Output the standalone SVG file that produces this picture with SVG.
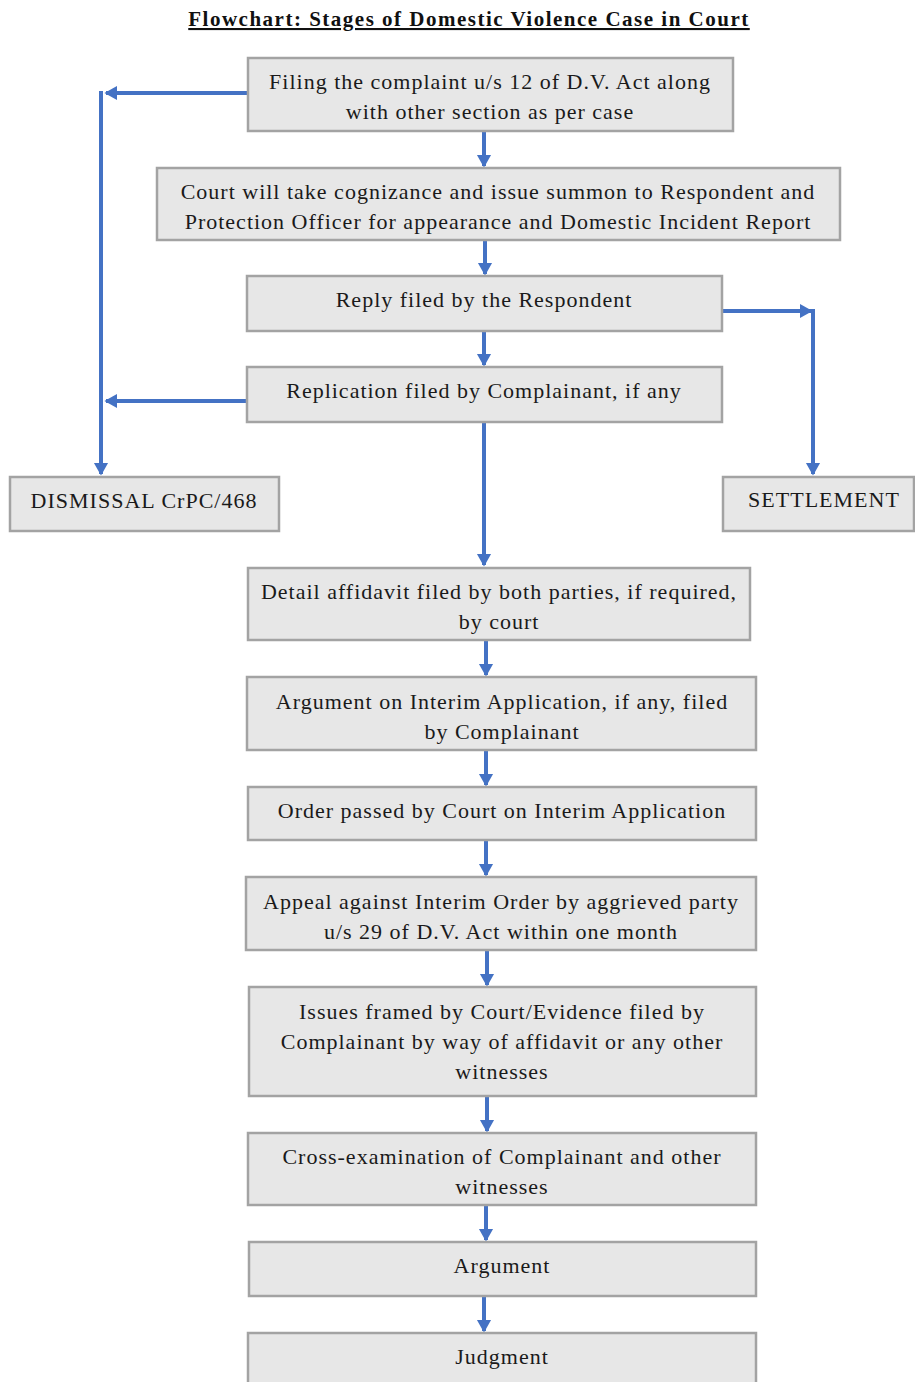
<svg xmlns="http://www.w3.org/2000/svg" width="915" height="1382" viewBox="0 0 915 1382">
<style>
.box{fill:#e7e7e7;stroke:#a3a3a3;stroke-width:2.5}
.t{font-family:"Liberation Serif","Times New Roman",serif;font-size:22px;fill:#1a1a1a;text-anchor:middle;letter-spacing:1px}
.title{font-family:"Liberation Serif","Times New Roman",serif;font-size:21px;font-weight:bold;fill:#111;text-anchor:middle;text-decoration:underline;letter-spacing:1.5px}
.c{fill:none;stroke:#4472c4;stroke-width:4;marker-end:url(#ah)}
</style>
<defs>
<marker id="ah" markerWidth="4" markerHeight="4" refX="2.8" refY="2" orient="auto" markerUnits="strokeWidth" viewBox="0 0 4 4">
<path d="M0,0.2 L3.2,2 L0,3.8 Z" fill="#4472c4"/>
</marker>
</defs>
<rect width="915" height="1382" fill="#fff"/>
<text class="title" x="469" y="26">Flowchart: Stages of Domestic Violence Case in Court</text>

<g id="connectors">
<path class="c" d="M484,131 V166"/>
<path class="c" d="M485,240 V274"/>
<path class="c" d="M484,331 V365"/>
<path class="c" d="M484,422 V565"/>
<path class="c" d="M248,93 H106"/>
<path class="c" d="M101,91 V474"/>
<path class="c" d="M248,401 H106"/>
<path class="c" d="M722,311 H811"/>
<path class="c" d="M813,309 V474"/>
<path class="c" d="M486,640 V675"/>
<path class="c" d="M486,750 V785"/>
<path class="c" d="M486,840 V875"/>
<path class="c" d="M487,950 V985"/>
<path class="c" d="M487,1096 V1131"/>
<path class="c" d="M486,1205 V1240"/>
<path class="c" d="M484,1296 V1331"/>
</g>

<g id="n1"><rect class="box" x="248" y="58" width="485" height="73"/>
<text class="t" x="490" y="89">Filing the complaint u/s 12 of D.V. Act along</text>
<text class="t" x="490" y="119">with other section as per case</text></g>

<g id="n2"><rect class="box" x="157" y="168" width="683" height="72"/>
<text class="t" x="498" y="199">Court will take cognizance and issue summon to Respondent and</text>
<text class="t" x="498" y="229">Protection Officer for appearance and Domestic Incident Report</text></g>

<g id="n3"><rect class="box" x="247" y="276" width="475" height="55"/>
<text class="t" x="484" y="307">Reply filed by the Respondent</text></g>

<g id="n4"><rect class="box" x="247" y="367" width="475" height="55"/>
<text class="t" x="484" y="398">Replication filed by Complainant, if any</text></g>

<g id="n5"><rect class="box" x="10" y="477" width="269" height="54"/>
<text class="t" x="144" y="508">DISMISSAL CrPC/468</text></g>

<g id="n6"><rect class="box" x="723" y="477" width="191" height="54"/>
<text class="t" x="824" y="507">SETTLEMENT</text></g>

<g id="n7"><rect class="box" x="248" y="568" width="502" height="72"/>
<text class="t" x="499" y="599">Detail affidavit filed by both parties, if required,</text>
<text class="t" x="499" y="629">by court</text></g>

<g id="n8"><rect class="box" x="247" y="677" width="509" height="73"/>
<text class="t" x="502" y="709">Argument on Interim Application, if any, filed</text>
<text class="t" x="502" y="739">by Complainant</text></g>

<g id="n9"><rect class="box" x="248" y="787" width="508" height="53"/>
<text class="t" x="502" y="818">Order passed by Court on Interim Application</text></g>

<g id="n10"><rect class="box" x="246" y="877" width="510" height="73"/>
<text class="t" x="501" y="909">Appeal against Interim Order by aggrieved party</text>
<text class="t" x="501" y="939">u/s 29 of D.V. Act within one month</text></g>

<g id="n11"><rect class="box" x="249" y="987" width="507" height="109"/>
<text class="t" x="502" y="1019">Issues framed by Court/Evidence filed by</text>
<text class="t" x="502" y="1049">Complainant by way of affidavit or any other</text>
<text class="t" x="502" y="1079">witnesses</text></g>

<g id="n12"><rect class="box" x="248" y="1133" width="508" height="72"/>
<text class="t" x="502" y="1164">Cross-examination of Complainant and other</text>
<text class="t" x="502" y="1194">witnesses</text></g>

<g id="n13"><rect class="box" x="249" y="1242" width="507" height="54"/>
<text class="t" x="502" y="1273">Argument</text></g>

<g id="n14"><rect class="box" x="248" y="1333" width="508" height="60"/>
<text class="t" x="502" y="1364">Judgment</text></g>
</svg>
